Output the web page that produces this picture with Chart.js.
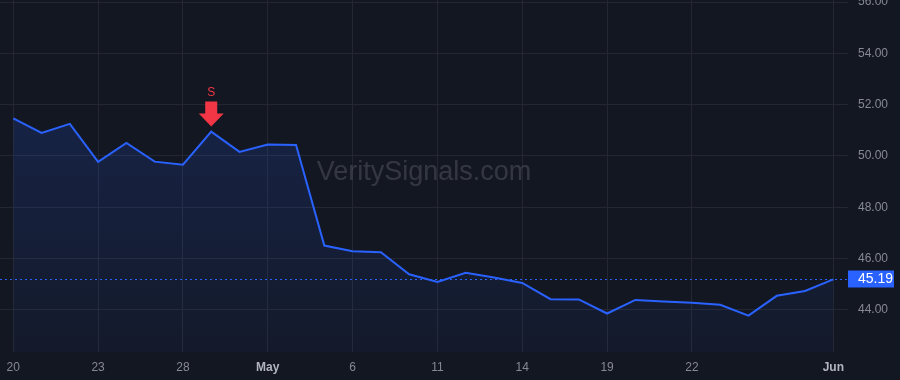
<!DOCTYPE html>
<html><head><meta charset="utf-8">
<script src="https://cdn.jsdelivr.net/npm/chart.js@4/dist/chart.umd.min.js"></script>
<style>html,body{margin:0;padding:0;background:#131722;overflow:hidden}#wrap{width:900px;height:380px}</style>
</head><body><div id="wrap"><canvas id="c" width="900" height="380"></canvas></div>
<script>
// ---- data ----
const tradingDays = ['2020-04-20','2020-04-21','2020-04-22','2020-04-23','2020-04-24','2020-04-27','2020-04-28','2020-04-29','2020-04-30','2020-05-01',
  '2020-05-04','2020-05-05','2020-05-06','2020-05-07','2020-05-08','2020-05-11','2020-05-12','2020-05-13','2020-05-14','2020-05-15',
  '2020-05-18','2020-05-19','2020-05-20','2020-05-21','2020-05-22','2020-05-26','2020-05-27','2020-05-28','2020-05-29','2020-06-01'];
const closes = [51.47,50.90,51.25,49.77,50.51,49.78,49.66,50.95,50.16,50.45,
  50.43,46.51,46.29,46.25,45.39,45.09,45.45,45.26,45.05,44.42,
  44.41,43.86,44.39,44.33,44.28,44.20,43.78,44.55,44.74,45.19];
const tickIndex = [0,3,6,9,12,15,18,21,24,29];
const tickText = ['20','23','28','May','6','11','14','19','22','Jun'];
const monthTicks = ['May','Jun'];
const yTicks = [44,46,48,50,52,54,56];
const signalIndex = [7];
const signalText = ['S'];
const lastPrice = 45.19;
const watermark = 'VeritySignals.com';

// ---- style ----
const BG = '#131722', GRID = '#242733', TXT = '#868993', LINE = '#2962ff', RED = '#f23645';
const FONT = "'Liberation Sans', Arial, sans-serif";

const overlay = {
  id: 'overlay',
  beforeDraw(chart) {
    const c = chart.ctx; c.save(); c.fillStyle = BG; c.fillRect(0,0,chart.width,chart.height); c.restore();
  },
  beforeDatasetsDraw(chart) {
    const c = chart.ctx, a = chart.chartArea;
    c.save();
    c.font = '27px ' + FONT; c.fillStyle = 'rgba(255,255,255,0.14)';
    c.textAlign = 'center'; c.textBaseline = 'middle';
    c.fillText(watermark, (a.left + a.right) / 2, (a.top + a.bottom) / 2 - 3);
    c.restore();
  },
  afterDatasetsDraw(chart) {
    const c = chart.ctx, a = chart.chartArea, xs = chart.scales.x, ys = chart.scales.y;
    c.save();
    // price line
    const py = Math.round(ys.getPixelForValue(lastPrice)) + 0.5;
    c.strokeStyle = LINE; c.lineWidth = 1; c.setLineDash([2,3]);
    c.beginPath(); c.moveTo(a.left, py); c.lineTo(a.right, py); c.stroke();
    c.setLineDash([]);
    c.fillStyle = LINE; c.fillRect(a.right, py - 9, 46, 17);
    c.fillStyle = '#ffffff'; c.font = '14px ' + FONT; c.textAlign = 'left'; c.textBaseline = 'middle';
    c.fillText(lastPrice.toFixed(2), a.right + 10, py);
    // signals
    signalIndex.forEach((idx, k) => {
      const x = xs.getPixelForValue(idx), y = ys.getPixelForValue(closes[idx]);
      const tip = y - 5;
      c.fillStyle = RED;
      c.beginPath();
      c.moveTo(x - 6, tip - 25); c.lineTo(x + 6, tip - 25); c.lineTo(x + 6, tip - 13);
      c.lineTo(x + 12.5, tip - 13); c.lineTo(x, tip); c.lineTo(x - 12.5, tip - 13); c.lineTo(x - 6, tip - 13);
      c.closePath(); c.fill();
      c.font = '12px ' + FONT; c.textAlign = 'center'; c.textBaseline = 'middle';
      c.fillText(signalText[k], x, tip - 34);
    });
    c.restore();
  }
};

new Chart(document.getElementById('c'), {
  type: 'line',
  data: { datasets: [{
    data: closes.map((v, i) => ({ x: i, y: v })),
    borderColor: LINE, borderWidth: 2, pointRadius: 0, tension: 0,
    fill: 'start',
    backgroundColor(ctx) {
      const a = ctx.chart.chartArea; if (!a) return 'rgba(41,98,255,0.12)';
      const g = ctx.chart.ctx.createLinearGradient(0, a.top, 0, a.bottom);
      g.addColorStop(0, 'rgba(41,98,255,0.22)');
      g.addColorStop(1, 'rgba(41,98,255,0.04)');
      return g;
    }
  }]},
  options: {
    responsive: false, animation: false, devicePixelRatio: 1,
    layout: { padding: 0 },
    plugins: { legend: { display: false }, tooltip: { enabled: false } },
    scales: {
      x: {
        type: 'linear', position: 'bottom', min: -0.47, max: 29.52,
        grid: { color: GRID, drawTicks: false },
        border: { display: false },
        ticks: {
          autoSkip: false, maxRotation: 0, minRotation: 0, padding: 8,
          color: (ctx) => monthTicks.includes(ctx.tick && ctx.tick.label) ? '#b2b5be' : TXT,
          font: (ctx) => ({ family: FONT, size: 12, weight: monthTicks.includes(ctx.tick && ctx.tick.label) ? 'bold' : 'normal' }),
          callback: (v) => { const k = tickIndex.indexOf(v); return k >= 0 ? tickText[k] : ''; }
        },
        afterBuildTicks: (s) => { s.ticks = tickIndex.map(v => ({ value: v })); },
        afterFit: (s) => { s.height = 28; s.paddingLeft = 0; s.paddingRight = 0; }
      },
      y: {
        type: 'linear', position: 'right', min: 42.36, max: 56.08,
        grid: { color: GRID, drawTicks: false },
        border: { display: false },
        ticks: { padding: 10, color: TXT, font: { family: FONT, size: 12 }, callback: (v) => v.toFixed(2) },
        afterBuildTicks: (s) => { s.ticks = yTicks.map(v => ({ value: v })); },
        afterFit: (s) => { s.width = 52; s.paddingTop = 0; s.paddingBottom = 0; }
      }
    }
  },
  plugins: [overlay]
});
</script>
</body></html>
